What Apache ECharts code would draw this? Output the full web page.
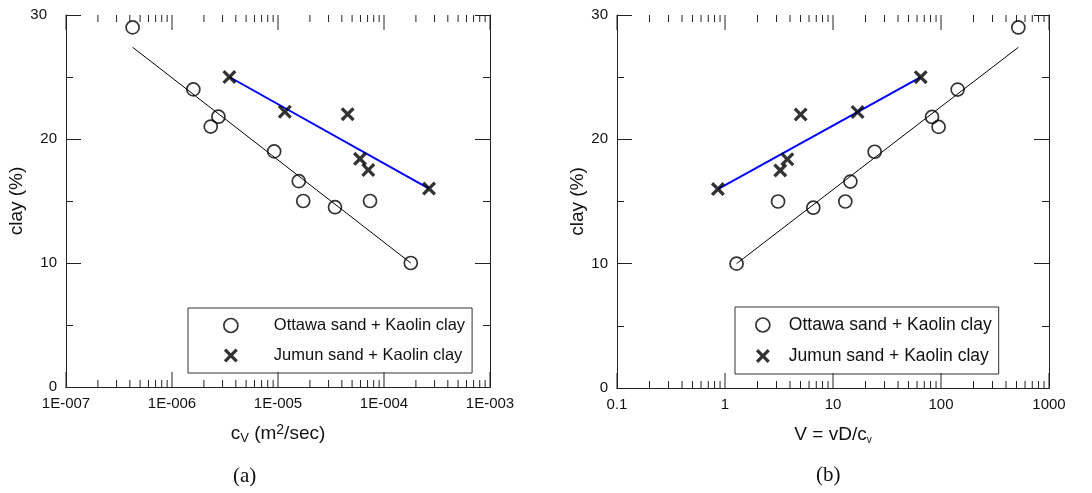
<!DOCTYPE html>
<html><head><meta charset="utf-8">
<script src="https://cdn.jsdelivr.net/npm/echarts@6/dist/echarts.min.js"></script>
<style>html,body{margin:0;padding:0;background:#fff}#c{width:1092px;height:493px}</style>
</head><body><div id="c"></div>
<script>
const seriesNames = ['Ottawa sand + Kaolin clay', 'Jumun sand + Kaolin clay'];
// Panel (a): clay vs cv
const cvOttawa = [4.25e-7, 1.59e-6, 2.32e-6, 2.74e-6, 9.2e-6, 1.57e-5, 1.73e-5, 3.45e-5, 7.38e-5, 1.79e-4];
const clayOttawaA = [29, 24, 21, 21.8, 19, 16.6, 15, 14.5, 15, 10];
const cvJumun = [3.48e-6, 1.16e-5, 4.54e-5, 5.94e-5, 7.11e-5, 2.66e-4];
const clayJumunA = [25, 22.2, 22, 18.4, 17.5, 16];
const fitOttawaAx = [4.25e-7, 1.79e-4], fitOttawaAy = [27.4, 10];
const fitJumunAx = [3.48e-6, 2.66e-4], fitJumunAy = [25, 16];
// Panel (b): clay vs V = vD/cv
const VOttawa = [1.28, 3.1, 6.57, 13.0, 14.5, 24.3, 82.6, 95, 142.6, 520];
const clayOttawaB = [10, 15, 14.5, 15, 16.6, 19, 21.8, 21, 24, 29];
const VJumun = [0.86, 3.25, 3.78, 5.02, 16.9, 64.9];
const clayJumunB = [16, 17.5, 18.4, 22, 22.2, 25];
const fitOttawaBx = [1.28, 520], fitOttawaBy = [10, 27.4];
const fitJumunBx = [0.86, 64.9], fitJumunBy = [16, 25];
// Tick labels
const xTickLabelsA = ['1E-007', '1E-006', '1E-005', '1E-004', '1E-003'];
const xTickLabelsB = ['0.1', '1', '10', '100', '1000'];
const yMin = 0, yMax = 30, yStep = 10;

const zip = (xs, ys) => xs.map((x, i) => [x, ys[i]]);
const FONT = 'Liberation Sans, Arial, sans-serif';
const AX = '#222';
const xMark = 'path://M0,2L2,0L6,4L10,0L12,2L8,6L12,10L10,12L6,8L2,12L0,10L4,6Z';

function logTicks(e0, e1) {
  const out = [];
  for (let e = e0; e < e1; e++) {
    out.push([Math.pow(10, e), 15]);
    for (let k = 2; k <= 9; k++) out.push([k * Math.pow(10, e), 7]);
  }
  out.push([Math.pow(10, e1), 15]);
  return out;
}

function xAxes(grid, min, max, labels, e0, name, nameGap) {
  return [{
    type: 'log', logBase: 10, gridIndex: grid, min: min, max: max, position: 'bottom',
    axisLine: { show: true, lineStyle: { color: AX, width: 1 } },
    axisTick: { show: false },
    splitLine: { show: false },
    axisLabel: { fontFamily: FONT, fontSize: 15, color: '#111', margin: 9,
      formatter: v => labels[Math.round(Math.log10(v)) - e0] },
    name: name, nameLocation: 'middle', nameGap: nameGap,
    nameTextStyle: { fontFamily: FONT, fontSize: 19, color: '#111',
      rich: {
        n: { fontFamily: FONT, fontSize: 19, color: '#111' },
        sub: { fontFamily: FONT, fontSize: 13, color: '#111', verticalAlign: 'bottom', padding: [9, 0, 0, 0] },
        subs: { fontFamily: FONT, fontSize: 10, color: '#111', verticalAlign: 'bottom', padding: [11, 0, 0, 0] },
        sup: { fontFamily: FONT, fontSize: 14, color: '#111', verticalAlign: 'top', padding: [0, 0, 7, 0] }
      } }
  }, {
    type: 'log', logBase: 10, gridIndex: grid, min: min, max: max, position: 'top',
    axisLine: { show: true, lineStyle: { color: AX, width: 1 } },
    axisTick: { show: false },
    axisLabel: { show: false }, splitLine: { show: false }
  }];
}

function yAxes(grid, nameGap, shift30) {
  return [{
    type: 'value', gridIndex: grid, min: yMin, max: yMax, interval: yStep, position: 'left',
    axisLine: { show: true, lineStyle: { color: AX, width: 1 } },
    axisTick: { show: true, inside: true, length: 15, lineStyle: { color: AX } },
    minorTick: { show: true, splitNumber: 2, length: 7, lineStyle: { color: AX } },
    splitLine: { show: false },
    axisLabel: { fontFamily: FONT, fontSize: 15, color: '#111', margin: 9,
      formatter: v => (shift30 && v === yMax) ? '{s|' + v + '}' : String(v),
      rich: { s: { fontFamily: FONT, fontSize: 15, color: '#111', padding: [0, 10, 0, 0] } } },
    name: 'clay (%)', nameLocation: 'middle', nameGap: nameGap,
    nameTextStyle: { fontFamily: FONT, fontSize: 19, color: '#111' }
  }, {
    type: 'value', gridIndex: grid, min: yMin, max: yMax, interval: yStep, position: 'right',
    axisLine: { show: true, lineStyle: { color: AX, width: 1 } },
    axisTick: { show: true, inside: true, length: 15, lineStyle: { color: AX } },
    minorTick: { show: true, splitNumber: 2, length: 7, lineStyle: { color: AX } },
    splitLine: { show: false }, axisLabel: { show: false }
  }];
}

// x-axis tick marks (decades and 2..9 sub-ticks), placed through the log axis, on bottom and top edges
function tickSeries(axIdx, ticks) {
  return {
    type: 'custom', xAxisIndex: axIdx, yAxisIndex: axIdx, silent: true, clip: false, z: 1,
    data: ticks,
    renderItem(params, api) {
      const len = api.value(1);
      const b = api.coord([api.value(0), yMin]);
      const t = api.coord([api.value(0), yMax]);
      return { type: 'group', children: [
        { type: 'line', shape: { x1: b[0], y1: b[1], x2: b[0], y2: b[1] - len }, style: { stroke: AX, lineWidth: 1 } },
        { type: 'line', shape: { x1: t[0], y1: t[1], x2: t[0], y2: t[1] + len }, style: { stroke: AX, lineWidth: 1 } }
      ] };
    }
  };
}

const circleStyle = { color: 'rgba(0,0,0,0)', borderColor: '#000', borderWidth: 1.7 };
const crossStyle = { color: '#000', borderWidth: 0 };

function panelSeries(axIdx, ox, oy, jx, jy, fox, foy, fjx, fjy) {
  return [
    { type: 'line', xAxisIndex: axIdx, yAxisIndex: axIdx, data: zip(fox, foy), symbol: 'none',
      lineStyle: { color: '#000', width: 1 }, silent: true, z: 2 },
    { type: 'line', xAxisIndex: axIdx, yAxisIndex: axIdx, data: zip(fjx, fjy), symbol: 'none',
      lineStyle: { color: '#0000ff', width: 2 }, silent: true, z: 2 },
    { name: seriesNames[0], type: 'scatter', xAxisIndex: axIdx, yAxisIndex: axIdx, data: zip(ox, oy),
      symbol: 'circle', symbolSize: 13, itemStyle: circleStyle, z: 3 },
    { name: seriesNames[1], type: 'scatter', xAxisIndex: axIdx, yAxisIndex: axIdx, data: zip(jx, jy),
      symbol: xMark, symbolSize: 14, itemStyle: crossStyle, z: 3 }
  ];
}

function legend(left, top, padL, textPadL, fs) {
  return {
    orient: 'vertical', left: left, top: top, itemWidth: 14, itemHeight: 14, itemGap: 13,
    padding: [9, 7, 9, padL], borderColor: '#333', borderWidth: 1, selectedMode: false,
    textStyle: { fontFamily: FONT, fontSize: fs, color: '#111', padding: [0, 0, 0, textPadL] },
    data: [
      { name: seriesNames[0], icon: 'circle', itemStyle: circleStyle },
      { name: seriesNames[1], icon: xMark, itemStyle: crossStyle }
    ]
  };
}

const chart = echarts.init(document.getElementById('c'), null, { renderer: 'canvas' });
chart.setOption({
  animation: false,
  backgroundColor: '#fff',
  grid: [
    { left: 66, top: 15, width: 424, height: 372 },
    { left: 617, top: 15, width: 432, height: 373 }
  ],
  xAxis: [
    ...xAxes(0, 1e-7, 1e-3, xTickLabelsA, -7, '{n|c}{sub|V}{n| (m}{sup|2}{n|/sec)}', 36),
    ...xAxes(1, 0.1, 1000, xTickLabelsB, -1, '{n|V = vD/c}{subs|v}', 36)
  ],
  yAxis: [...yAxes(0, 35, true), ...yAxes(1, 29, false)],
  legend: [legend(188, 308, 35, 31, 16.5), legend(735, 307, 20, 14, 17.5)],
  graphic: [
    { type: 'text', left: 233, top: 466, style: { text: '(a)', font: '21px "Liberation Serif", "Times New Roman", serif', fill: '#111' } },
    { type: 'text', left: 816, top: 465, style: { text: '(b)', font: '21px "Liberation Serif", "Times New Roman", serif', fill: '#111' } }
  ],
  series: [
    tickSeries(0, logTicks(-7, -3)),
    tickSeries(2, logTicks(-1, 3)),
    ...panelSeries(0, cvOttawa, clayOttawaA, cvJumun, clayJumunA, fitOttawaAx, fitOttawaAy, fitJumunAx, fitJumunAy),
    ...panelSeries(2, VOttawa, clayOttawaB, VJumun, clayJumunB, fitOttawaBx, fitOttawaBy, fitJumunBx, fitJumunBy)
  ]
});
</script></body></html>
